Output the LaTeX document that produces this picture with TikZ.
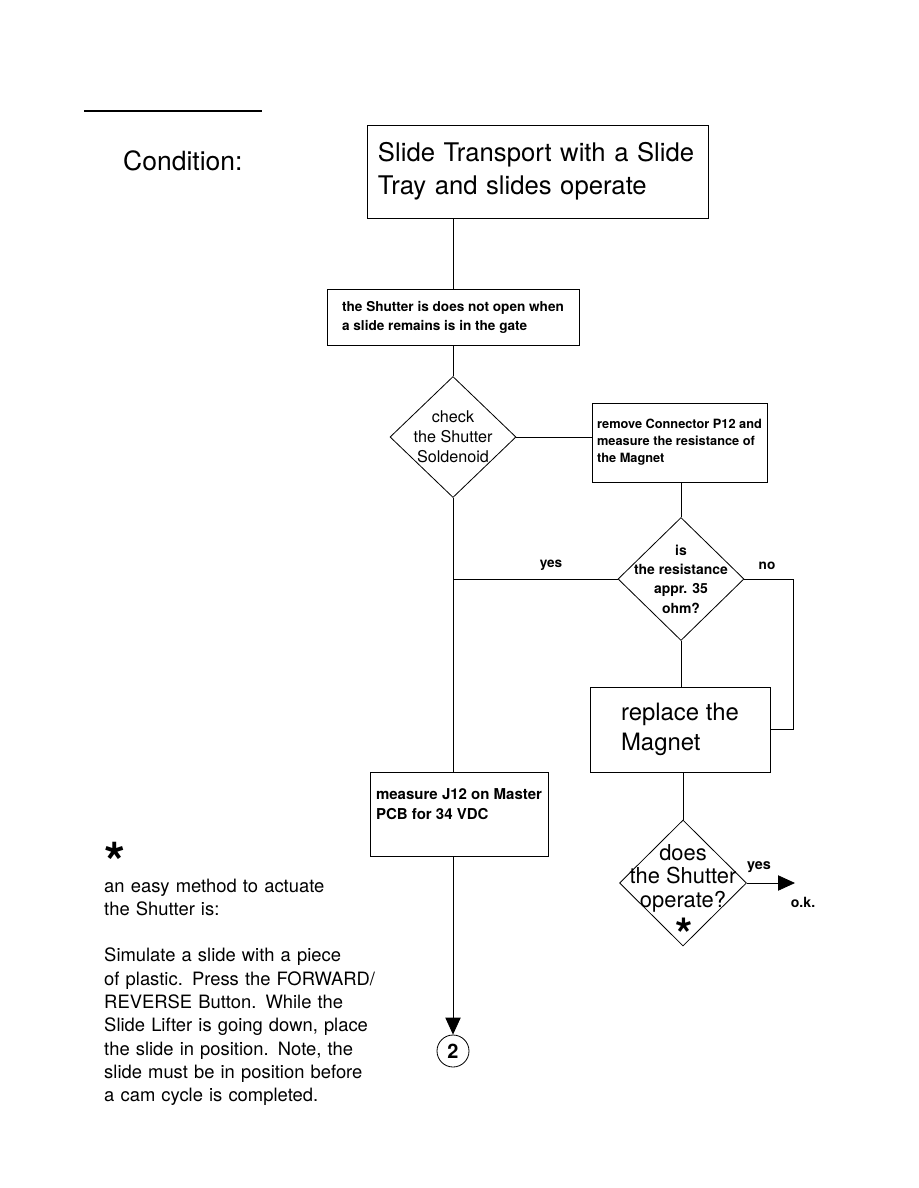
\documentclass[tikz,border=0pt]{standalone}
\usepackage{fontspec}
\setmainfont{TeX Gyre Heros}
\usetikzlibrary{shapes.geometric,arrows.meta}

\begin{document}
\begin{tikzpicture}[x=0.03cm, y=-0.03cm,
    box/.style={draw, line width=0.7pt, rectangle, align=left},
    dia/.style={draw, line width=0.7pt, diamond, inner sep=0pt},
    dtext/.style={align=center, inner sep=0pt},
    lbl/.style={inner sep=0pt, font=\fontsize{11.6}{14}\selectfont\bfseries},
    link/.style={line width=0.7pt},
    tip/.style={-{Triangle[length=0.51cm, width=0.46cm]}}]
    \useasboundingbox (0,0) rectangle (918,1188);

    % Heading
    \draw[line width=1.4pt] (84,111) -- (262,111);
    \node[anchor=base west, inner sep=0pt, font=\fontsize{22.6}{26}\selectfont] (cond) at (123,171) {Condition:};

    % Boxes
    \node[box, text width=9.57cm, inner xsep=0.33cm, minimum height=2.79cm,
          font=\fontsize{21.9}{28}\selectfont] (start) at (537.5,171.5)
          {Slide Transport with a Slide\\Tray and slides operate};
    \node[box, minimum width=7.56cm, minimum height=1.68cm,
          font=\fontsize{11.6}{16.2}\selectfont\bfseries] (cause) at (453,317)
          {the Shutter is does not open when\\a slide remains is in the gate};
    \node[box, minimum width=5.25cm, minimum height=2.37cm,
          font=\fontsize{10.9}{14.5}\selectfont\bfseries] (meas) at (679.5,442.5)
          {remove Connector P12 and\\measure the resistance of\\the Magnet};
    \node[box, minimum width=5.4cm, minimum height=2.55cm,
          font=\fontsize{20.4}{25.6}\selectfont] (magnet) at (680,729.5)
          {replace the\\Magnet};
    \node[box, minimum width=5.34cm, minimum height=2.52cm,
          font=\fontsize{12.8}{17}\selectfont\bfseries] (pcb) at (459,814)
          {measure J12 on Master\\PCB for 34 VDC\\\mbox{}};

    % Decisions
    \node[dia, minimum width=3.78cm, minimum height=3.63cm] (chk) at (453,437) {};
    \node[dtext, font=\fontsize{13.8}{17}\selectfont] (chkt) at (chk) {check\\the Shutter\\Soldenoid};

    \node[dia, minimum width=3.78cm, minimum height=3.69cm] (res) at (681,579) {};
    \node[dtext, font=\fontsize{11.9}{16.5}\selectfont\bfseries] (rest) at (res) {is\\the resistance\\appr. 35\\ohm?};

    \node[dia, minimum width=3.81cm, minimum height=3.78cm] (does) at (683,883) {};
    \node[dtext, font=\fontsize{18.7}{20}\selectfont] (doest) at (683,878) {does\\the Shutter\\operate?};
    \node[anchor=base, inner sep=0pt, font=\fontsize{38}{38}\selectfont\bfseries] (doesstar) at (684,950) {*};

    % Connector
    \node[draw, circle, line width=0.7pt, minimum size=0.96cm, inner sep=0pt,
          font=\fontsize{17}{17}\selectfont\bfseries] (two) at (453,1051) {2};

    % Lines
    \draw[link] (cause.north |- start.south) -- (cause.north);
    \draw[link] (cause.south) -- (chk.north);
    \draw[link] (chk.east) -- (chk.east -| meas.west);
    \draw[link] (res.north |- meas.south) -- (res.north);
    \draw[link] (res.west) -- (res.west -| chk.south);
    \draw[link] (chk.south) -- (chk.south |- pcb.north);
    \draw[link] (res.south) -- (res.south |- magnet.north);
    \coordinate (noturn) at (793,579);
    \draw[link] (res.east) -- (noturn) |- (magnet.east);
    \draw[link] (does.north |- magnet.south) -- (does.north);
    \coordinate (okpt) at (795,883);
    \draw[link, tip] (does.east) -- (okpt);
    \draw[link, tip] (chk.south |- pcb.south) -- (two.north);

    % Labels
    \node[lbl] (yesa) at (551,565) {yes};
    \node[lbl] (noa) at (767,566) {no};
    \node[lbl, font=\fontsize{12.3}{14}\selectfont\bfseries] (yesb) at (759,867) {yes};
    \node[lbl, font=\fontsize{12}{14}\selectfont\bfseries] (ok) at (803,902) {o.k.};

    % Note
    \node[anchor=base west, inner sep=0pt, text width=9cm, align=left,
          font=\fontsize{15.7}{19.9}\selectfont] (note) at (104,881)
          {{\fontsize{46}{46}\selectfont\bfseries *}\\[-10.5pt]an easy method to actuate\\the Shutter is:\\[19.9pt]Simulate a slide with a piece\\of plastic. Press the FORWARD/\\REVERSE Button. While the\\Slide Lifter is going down, place\\the slide in position. Note, the\\slide must be in position before\\a cam cycle is completed.};
\end{tikzpicture}
\end{document}
